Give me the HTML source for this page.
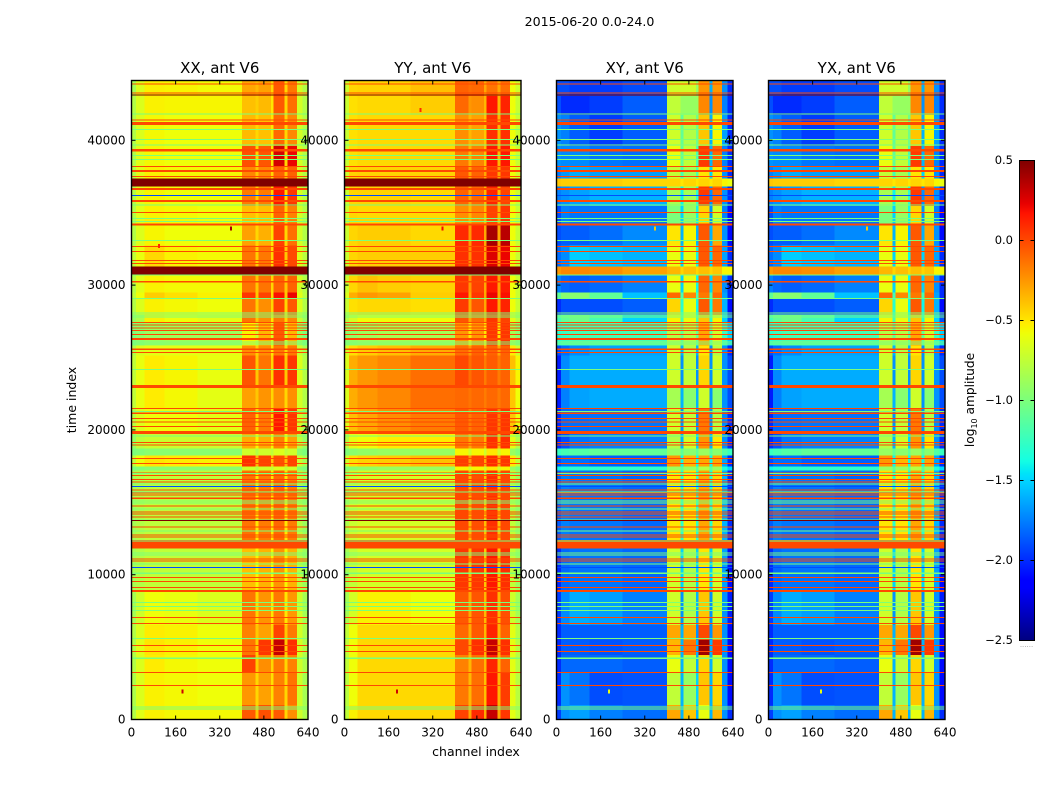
<!DOCTYPE html>
<html lang="en">
<head>
<meta charset="utf-8">
<title>2015-06-20 0.0-24.0</title>
<style>
html,body{margin:0;padding:0;background:#fff;width:1050px;height:800px;overflow:hidden}
svg{display:block}
text{font-family:"DejaVu Sans","Liberation Sans",sans-serif;fill:#000}
</style>
</head>
<body>
<svg id="figure" xmlns="http://www.w3.org/2000/svg" width="1050" height="800" viewBox="0 0 1050 800">
<rect x="0" y="0" width="1050" height="800" fill="#fff"/>
<text x="589.5" y="26" font-size="12.6" text-anchor="middle">2015-06-20 0.0-24.0</text>
<text transform="translate(76,400) rotate(-90)" font-size="12.5" text-anchor="middle">time index</text>
<text x="476" y="756" font-size="12.5" text-anchor="middle">channel index</text>
<text transform="translate(974,400) rotate(-90)" font-size="12.2" text-anchor="middle">log<tspan font-size="8" dy="3">10</tspan><tspan dy="-3"> amplitude</tspan></text>
<text x="1026.5" y="647" font-size="7" text-anchor="middle" fill="#999" style="fill:#999">......</text>
<g id="panels"></g>
<g id="colorbar"></g>
</svg>
<script>
// Channel bin edges (x axis categories)
const channelEdges = [0,16,48,120,240,400,450,460,505,515,555,565,600,620,640];
// Time row edges, top to bottom
const timeEdges = [44130,43070,41760,39620,38170,37350,36800,35480,34100,32720,31280,30730,29480,29070,27900,27420,25830,25140,23070,21480,19830,18720,18240,17480,17210,12380,11830,8930,6520,5480,4450,3280,1000,0];
const xTicks = [0,160,320,480,640];
const yTicks = [0,10000,20000,30000,40000];
const colorbarTicks = [0.5,0,-0.5,-1,-1.5,-2,-2.5];
const colorbarTickLabels = ["0.5","0.0","\u22120.5","\u22121.0","\u22121.5","\u22122.0","\u22122.5"];
const panelTitles = ["XX, ant V6","YY, ant V6","XY, ant V6","YX, ant V6"];

// log10 amplitude, one row per time segment, one column per channel bin
const xxValues = [
[-.85,-.65,-.54,-.55,-.57,-.3,-.35,-.28,-.45,-.05,-.45,-.15,-.68,-.8],
[-.8,-.65,-.54,-.55,-.55,-.38,-.42,-.36,-.5,-.05,-.45,-.12,-.68,-.8],
[-.8,-.65,-.56,-.58,-.58,-.36,-.45,-.38,-.5,-.1,-.45,-.2,-.68,-.8],
[-.8,-.63,-.56,-.58,-.58,-.02,-.45,-.04,-.5,.28,-.45,.22,-.68,-.8],
[-.8,-.63,-.54,-.56,-.56,-.2,-.4,-.2,-.45,-.08,-.4,-.08,-.68,-.8],
[.5,.5,.5,.5,.5,.5,.5,.5,.5,.5,.5,.5,.5,.5],
[-.8,-.63,-.55,-.58,-.58,-.16,-.42,-.16,-.45,.16,-.45,.06,-.68,-.8],
[-.8,-.63,-.54,-.56,-.58,-.38,-.45,-.38,-.5,-.08,-.45,-.18,-.68,-.8],
[-.8,-.65,-.55,-.58,-.58,-.28,-.45,-.33,-.5,.02,-.45,-.12,-.68,-.8],
[-.75,-.6,-.46,-.54,-.56,-.14,-.42,-.15,-.45,.08,-.4,0,-.65,-.78],
[.5,.5,.5,.5,.5,.5,.5,.5,.5,.5,.5,.5,.5,.5],
[-.8,-.63,-.54,-.56,-.56,-.14,-.4,-.14,-.45,-.08,-.4,-.08,-.68,-.8],
[-.75,-.58,-.42,-.48,-.54,.06,-.4,.02,-.45,.18,-.4,.22,-.63,-.78],
[-.8,-.65,-.54,-.56,-.58,-.14,-.42,-.22,-.45,.02,-.45,-.05,-.65,-.8],
[-.9,-.82,-.54,-.58,-.62,-.14,-.4,-.22,-.5,-.15,-.45,-.2,-.72,-.88],
[-1,-.95,-.9,-.88,-.88,-.55,-.7,-.35,-.65,-.05,-.7,-.35,-.88,-1],
[-.8,-.65,-.62,-.62,-.62,-.22,-.42,-.22,-.5,-.15,-.45,-.15,-.72,-.85],
[-.75,-.6,-.52,-.55,-.6,-.04,-.4,-.14,-.45,.08,-.4,.06,-.65,-.8],
[-.75,-.6,-.52,-.56,-.62,-.28,-.4,-.24,-.45,-.22,-.45,-.22,-.68,-.8],
[-.78,-.64,-.58,-.58,-.62,-.08,-.45,-.15,-.45,.16,-.45,.06,-.7,-.85],
[-.9,-.76,-.72,-.72,-.72,-.32,-.55,-.32,-.55,-.18,-.55,-.28,-.76,-.9],
[-1,-.98,-.95,-.95,-.95,-.7,-.8,-.7,-.75,-.65,-.75,-.7,-.95,-1],
[-.75,-.58,-.5,-.52,-.54,.08,-.35,.02,-.4,-.02,-.35,.02,-.72,-.85],
[-1,-.98,-.95,-.95,-.95,-.7,-.8,-.7,-.75,-.65,-.75,-.7,-.95,-1],
[-.85,-.8,-.76,-.76,-.76,-.14,-.5,-.16,-.5,-.1,-.5,-.16,-.78,-.88],
[0,0,0,0,0,0,0,0,0,0,0,0,0,0],
[-.85,-.8,-.75,-.75,-.75,-.38,-.55,-.34,-.55,-.24,-.55,-.34,-.78,-.88],
[-.85,-.7,-.58,-.6,-.65,-.14,-.45,-.24,-.5,-.15,-.5,-.25,-.7,-.85],
[-.8,-.65,-.52,-.54,-.58,-.18,-.4,-.28,-.45,.02,-.4,-.15,-.68,-.82],
[-.8,-.63,-.5,-.54,-.58,-.14,-.42,.06,-.4,.32,-.4,.08,-.68,-.82],
[-.8,-.65,-.52,-.56,-.58,.02,-.42,-.22,-.45,-.15,-.45,-.18,-.7,-.82],
[-.82,-.65,-.54,-.56,-.58,-.25,-.45,-.28,-.48,-.18,-.45,-.14,-.7,-.85],
[-.8,-.63,-.54,-.56,-.56,-.05,-.4,-.02,-.42,-.05,-.45,-.22,-.7,-.82]
];
const yyValues = [
[-.72,-.45,-.44,-.44,-.38,-.08,-.12,-.1,-.3,-.14,-.3,-.12,-.58,-.7],
[-.72,-.48,-.46,-.46,-.42,-.1,-.25,-.22,-.35,.16,-.35,.12,-.58,-.72],
[-.72,-.48,-.46,-.46,-.46,-.22,-.35,-.28,-.4,.08,-.35,.08,-.58,-.72],
[-.72,-.48,-.46,-.46,-.46,-.15,-.35,-.18,-.38,.16,-.35,.16,-.58,-.72],
[-.72,-.45,-.44,-.44,-.44,-.05,-.3,-.08,-.3,.06,-.3,.06,-.58,-.7],
[.5,.5,.5,.5,.5,.5,.5,.5,.5,.5,.5,.5,.5,.5],
[-.72,-.45,-.44,-.44,-.46,-.08,-.3,-.1,-.35,.12,-.35,.02,-.58,-.72],
[-.72,-.45,-.46,-.46,-.46,-.22,-.35,-.2,-.38,.02,-.35,.06,-.58,-.72],
[-.72,-.45,-.42,-.42,-.46,.1,-.25,.1,-.3,.4,-.3,.35,-.58,-.72],
[-.72,-.45,-.42,-.42,-.42,.08,-.22,.08,-.28,.26,-.28,.22,-.58,-.72],
[.5,.5,.5,.5,.5,.5,.5,.5,.5,.5,.5,.5,.5,.5],
[-.72,-.45,-.38,-.42,-.44,.06,-.25,.02,-.3,.16,-.28,.14,-.58,-.72],
[-.65,-.32,-.25,-.28,-.42,.16,-.3,.06,-.3,.22,-.3,.18,-.58,-.72],
[-.72,-.48,-.46,-.46,-.48,.05,-.3,-.04,-.3,.16,-.3,.12,-.58,-.72],
[-.8,-.68,-.58,-.58,-.58,-.04,-.3,-.12,-.3,.06,-.3,.02,-.62,-.78],
[-.95,-.92,-.88,-.85,-.85,-.25,-.5,-.25,-.5,.06,-.5,.06,-.85,-.95],
[-.7,-.48,-.42,-.38,-.32,-.12,-.25,-.08,-.3,-.08,-.3,-.08,-.52,-.7],
[-.65,-.32,-.25,-.2,-.12,0,-.12,-.04,-.16,-.06,-.16,-.08,-.38,-.55],
[-.65,-.32,-.25,-.2,-.12,-.1,-.14,-.1,-.16,-.1,-.16,-.1,-.4,-.58],
[-.65,-.38,-.3,-.22,-.16,-.05,-.16,-.08,-.18,.06,-.18,.06,-.4,-.6],
[-.8,-.62,-.58,-.52,-.52,-.15,-.3,-.15,-.35,.08,-.35,.08,-.62,-.8],
[-.98,-.95,-.92,-.9,-.9,-.55,-.7,-.55,-.7,-.5,-.7,-.55,-.9,-.98],
[-.7,-.48,-.44,-.42,-.38,.04,-.25,.02,-.3,.1,-.3,.06,-.52,-.75],
[-.98,-.95,-.92,-.9,-.9,-.55,-.7,-.55,-.7,-.5,-.7,-.55,-.9,-.98],
[-.82,-.72,-.68,-.68,-.68,0,-.35,-.02,-.38,.08,-.38,0,-.75,-.88],
[0,0,0,0,0,0,0,0,0,0,0,0,0,0],
[-.85,-.75,-.68,-.68,-.68,.06,-.35,.06,-.4,.16,-.4,.08,-.75,-.88],
[-.85,-.68,-.54,-.54,-.58,-.05,-.3,-.04,-.35,.08,-.35,-.02,-.7,-.85],
[-.75,-.58,-.46,-.46,-.46,-.1,-.32,-.05,-.35,.12,-.35,-.08,-.62,-.78],
[-.75,-.58,-.46,-.46,-.46,0,-.3,.08,-.32,.32,-.32,.08,-.62,-.78],
[-.75,-.58,-.46,-.46,-.46,-.18,-.35,-.12,-.35,.12,-.35,-.08,-.62,-.78],
[-.78,-.58,-.46,-.46,-.46,-.15,-.35,-.12,-.38,.16,-.35,.04,-.62,-.78],
[-.75,-.54,-.46,-.46,-.46,.02,-.3,.1,-.32,.32,-.3,.06,-.62,-.75]
];
const xyValues = [
[-1.9,-1.9,-1.95,-1.95,-1.9,-.7,-.7,-.7,-.9,-.25,-1.6,-.25,-1.7,-2],
[-1.9,-2,-2,-1.95,-1.85,-.75,-.9,-.9,-.9,-.2,-1.7,-.2,-1.75,-2],
[-1.7,-1.75,-1.85,-1.95,-1.85,-.7,-1.1,-.8,-1.05,-.4,-1.6,-.55,-1.65,-2],
[-1.7,-1.72,-1.72,-1.78,-1.8,-.6,-1.1,-.75,-1.2,.05,-1.6,-.1,-1.75,-2],
[-1.75,-1.68,-1.62,-1.66,-1.66,-.75,-1.2,-.85,-1.2,-.5,-1.5,-.5,-1.7,-2],
[-.4,-.42,-.42,-.42,-.45,-.45,-.5,-.45,-.5,-.45,-.5,-.45,-.55,-.6],
[-1.75,-1.7,-1.65,-1.6,-1.6,-.85,-1.4,-.85,-1.3,.05,-1.7,-.1,-1.7,-2],
[-1.9,-1.75,-1.78,-1.78,-1.78,-1,-1.5,-.9,-1.4,-.45,-1.7,-.7,-1.75,-2.1],
[-1.9,-1.85,-1.85,-1.8,-1.72,-.5,-1.6,-.55,-1.6,-.05,-1.6,-.3,-1.7,-2.1],
[-1.8,-1.72,-1.52,-1.56,-1.6,-.6,-1.5,-.6,-1.4,-.05,-1.5,-.1,-1.65,-2],
[-.25,-.2,-.2,-.22,-.28,-.35,-.45,-.38,-.45,-.38,-.45,-.4,-.55,-.55],
[-1.75,-1.82,-1.85,-1.82,-1.75,-.6,-1.5,-.6,-1.4,-.1,-1.5,-.2,-1.7,-2],
[-1.1,-.95,-.95,-1.1,-1.55,-.1,-1.2,-.2,-1.2,-.15,-1.2,-.1,-1.65,-2],
[-2,-1.9,-1.9,-1.9,-1.85,-.45,-1.3,-.6,-1.4,-.05,-1.4,-.15,-1.6,-2.1],
[-1.2,-1.1,-1.05,-1.2,-1.5,-.55,-1.2,-.6,-1.2,-.4,-1.3,-.55,-1.5,-1.9],
[-1.3,-1.25,-1.2,-1.2,-1.2,-.8,-1.1,-.8,-1.1,-.3,-1.1,-.7,-1.25,-1.5],
[-1.9,-1.8,-1.72,-1.65,-1.65,-.7,-1.6,-.8,-1.6,-.5,-1.7,-.8,-1.7,-2],
[-2.05,-1.72,-1.62,-1.62,-1.62,-.7,-1.7,-.75,-1.7,-.45,-1.7,-.7,-1.7,-1.9],
[-2.05,-1.75,-1.65,-1.62,-1.62,-.85,-1.6,-.95,-1.6,-.7,-1.7,-.95,-1.7,-1.9],
[-2,-1.82,-1.8,-1.78,-1.78,-.7,-1.7,-.75,-1.7,-.15,-1.7,-.8,-1.72,-2],
[-2,-1.9,-1.78,-1.75,-1.75,-.8,-1.6,-.7,-1.5,-.25,-1.6,-.5,-1.7,-2],
[-1.25,-1.2,-1.15,-1.1,-1.1,-.9,-1.1,-.95,-1.1,-.9,-1.1,-.95,-1.15,-1.25],
[-1.9,-1.8,-1.8,-1.85,-1.85,-.25,-1.4,-.35,-1.4,-.3,-1.4,-.3,-1.65,-2],
[-1.4,-1.35,-1.3,-1.3,-1.3,-.9,-1.1,-.9,-1.1,-.8,-1.1,-.9,-1.35,-1.5],
[-1.85,-1.75,-1.78,-1.78,-1.82,-.5,-1.3,-.5,-1.3,-.3,-1.3,-.45,-1.6,-2],
[0,0,0,0,0,0,0,0,0,0,0,0,0,0],
[-2,-1.82,-1.78,-1.78,-1.82,-.7,-1.5,-.8,-1.5,-.5,-1.5,-.7,-1.65,-2.1],
[-1.95,-1.72,-1.62,-1.66,-1.75,-.7,-1.7,-.8,-1.6,-.4,-1.7,-.7,-1.7,-2.05],
[-2,-1.85,-1.85,-1.85,-1.85,-.3,-1.6,-.3,-1.7,0,-1.7,-.25,-1.7,-2.1],
[-2,-1.85,-1.85,-1.88,-1.85,-.35,-1.6,-.15,-1.6,.42,-1.6,.05,-1.7,-2.1],
[-2,-1.82,-1.82,-1.82,-1.85,-.6,-1.6,-.75,-1.6,-.45,-1.6,-.7,-1.7,-2.1],
[-2,-1.7,-1.78,-1.9,-1.88,-.75,-1.6,-.9,-1.5,-.4,-1.6,-.45,-1.7,-2.1],
[-1.95,-1.7,-1.65,-1.75,-1.8,-.3,-1.6,-.4,-1.6,-.6,-1.6,-.35,-1.7,-2]
];
const yxValues = xyValues;
const panelValues = [xxValues, yyValues, xyValues, yxValues];

// Flagged integrations: the time index of each full-width line
const orangeTimes = [43890,43250,41400,38180,37490,35000,32680,32330,31710,31480,27430,27240,27040,26850,26600,25570,25360,21490,21150,20800,20530,20250,19140,18960,18040,17690,17040,16840,16590,16400,15850,15640,15500,15280,14740,14330,14190,14000,13310,12740,12620,11080,10950,9820,9520,9100,7060,6640,5120,4680,3260,2360];
const greenTimes = [41800,40760,40070,39660,38940,38690,35530,34610,34380,33090,30700,29060,28070,27930,27800,26070,25930,24180,21280,19580,16980,16250,15720,15100,14950,14540,13780,13020,12330,11500,11360,10740,10100,8090,7790,7540,5610,4230,860,720];
const darkTimes = [43130,13730];
const blueTimes = [36200,16080,10510];
const wideOrangeStarts = [41280,39400,37950,36700,35880,34240,30300,26350,23100,19920,12210,8940];
const wideOrangeEnds = [41050,39230,37810,36570,35740,34100,30170,26210,22890,19720,11820,8810];
const orangeLevel = 0;
const greenLevel = -1;
const darkLevel = 0.5;
const blueLevel = -1.9;

// Isolated bright spots: channel, time, level, for each panel
const spotChannels = [[360,185,100],[355,190,275],[358,190],[358,190]];
const spotTimes = [[33900,1950,32700],[33900,1950,42100],[33900,1950],[33900,1950]];
const spotLevels = [[.4,.3,.1],[.2,.3,.1],[-.4,-.6],[-.4,-.6]];

const panelLefts = [131.5,344.5,556.5,768.5];
const panelWidth = 176.5;
const plotTop = 80.5;
const plotBottom = 719.5;
const channelMax = 640;
const timeMax = 44130;
const NS = "http://www.w3.org/2000/svg";

function xScale(panel, channel){ return panelLefts[panel] + channel / channelMax * panelWidth; }
function yScale(time){ return plotBottom - time / timeMax * (plotBottom - plotTop); }

function segment(x0, v0, x1, v1, t){
  return v0 + (v1 - v0) * (t - x0) / (x1 - x0);
}
function jet(v){
  const t = Math.max(0, Math.min(1, (v + 2.5) / 3));
  let r, g, b;
  r = t < .35 ? 0 : t < .66 ? segment(.35,0,.66,1,t) : t < .89 ? 1 : segment(.89,1,1,.5,t);
  g = t < .125 ? 0 : t < .375 ? segment(.125,0,.375,1,t) : t < .64 ? 1 : t < .91 ? segment(.64,1,.91,0,t) : 0;
  b = t < .11 ? segment(0,.5,.11,1,t) : t < .34 ? 1 : t < .65 ? segment(.34,1,.65,0,t) : 0;
  return "rgb(" + Math.round(r*255) + "," + Math.round(g*255) + "," + Math.round(b*255) + ")";
}
function rectEl(parent, x, y, w, h, fill){
  const el = document.createElementNS(NS, "rect");
  el.setAttribute("x", x);
  el.setAttribute("y", y);
  el.setAttribute("width", w);
  el.setAttribute("height", h);
  el.setAttribute("fill", fill);
  el.setAttribute("shape-rendering", "crispEdges");
  parent.appendChild(el);
  return el;
}
function lineEl(parent, x1, y1, x2, y2){
  const el = document.createElementNS(NS, "line");
  el.setAttribute("x1", x1);
  el.setAttribute("y1", y1);
  el.setAttribute("x2", x2);
  el.setAttribute("y2", y2);
  el.setAttribute("stroke", "#000");
  el.setAttribute("stroke-width", "1");
  parent.appendChild(el);
  return el;
}
function textEl(parent, x, y, size, anchor, str){
  const el = document.createElementNS(NS, "text");
  el.setAttribute("x", x);
  el.setAttribute("y", y);
  el.setAttribute("font-size", size);
  el.setAttribute("text-anchor", anchor);
  el.textContent = str;
  parent.appendChild(el);
  return el;
}
function drawLine(group, panel, timeHigh, timeLow, level){
  const y0 = yScale(timeHigh);
  const h = Math.max(1, yScale(timeLow) - y0);
  const el = rectEl(group, xScale(panel, 0), y0, panelWidth, h, jet(level));
  
  
}

const panelsRoot = document.getElementById("panels");
panelValues.forEach(function(values, p){
  const g = document.createElementNS(NS, "g");
  
  
  panelsRoot.appendChild(g);

  const cells = document.createElementNS(NS, "g");
  
  
  g.appendChild(cells);

  values.forEach(function(row, r){
    row.forEach(function(v, c){
      const x0 = xScale(p, channelEdges[c]);
      const x1 = xScale(p, channelEdges[c + 1]);
      const y0 = yScale(timeEdges[r]);
      const y1 = yScale(timeEdges[r + 1]);
      const cell = rectEl(cells, x0, y0, x1 - x0, y1 - y0, jet(v));
      
      
    });
  });

  orangeTimes.forEach(function(t){ drawLine(cells, p, t + 35, t - 35, orangeLevel); });
  greenTimes.forEach(function(t){ drawLine(cells, p, t + 35, t - 35, greenLevel); });
  darkTimes.forEach(function(t){ drawLine(cells, p, t + 35, t - 35, darkLevel); });
  blueTimes.forEach(function(t){ drawLine(cells, p, t + 35, t - 35, blueLevel); });
  wideOrangeStarts.forEach(function(t, i){ drawLine(cells, p, t, wideOrangeEnds[i], orangeLevel); });

  spotChannels[p].forEach(function(ch, i){
    const spot = rectEl(cells, xScale(p, ch) - 1, yScale(spotTimes[p][i]) - 2, 2, 4, jet(spotLevels[p][i]));
    
    
  });

  const left = xScale(p, 0);
  const right = xScale(p, channelMax);

  const frame = rectEl(g, left, plotTop, panelWidth, plotBottom - plotTop, "none");
  frame.setAttribute("stroke", "#000");
  frame.setAttribute("stroke-width", "1.4");
  frame.setAttribute("shape-rendering", "auto");
  
  

  const title = textEl(g, (left + right) / 2, 73, 15, "middle", panelTitles[p]);
  
  

  xTicks.forEach(function(tv){
    const x = xScale(p, tv);
    const tb = lineEl(g, x, plotBottom, x, plotBottom - 4);
    
    
    const tt = lineEl(g, x, plotTop, x, plotTop + 4);
    
    
    const lab = textEl(g, x, 736.5, 12, "middle", String(tv));
    
    
  });
  yTicks.forEach(function(tv){
    const y = yScale(tv);
    const tl = lineEl(g, left, y, left + 4, y);
    
    
    const tr = lineEl(g, right, y, right - 4, y);
    
    
    const lab = textEl(g, left - 6, y + 4, 12, "end", String(tv));
    
    
  });
});

// Colorbar
const cbRoot = document.getElementById("colorbar");
const cbLeft = 1019.5;
const cbRight = 1034.5;
const cbTop = 160.5;
const cbBottom = 640.5;
function cbY(v){ return cbBottom - (v + 2.5) / 3 * (cbBottom - cbTop); }
for (let py = 0; py < 480; py++) {
  const v = 0.5 - (py + 0.5) / 480 * 3;
  const sw = rectEl(cbRoot, cbLeft, cbY(v) - 0.5, cbRight - cbLeft, 1, jet(v));
  
  
}
const cbFrame = rectEl(cbRoot, cbLeft, cbTop, cbRight - cbLeft, cbBottom - cbTop, "none");
cbFrame.setAttribute("stroke", "#000");
cbFrame.setAttribute("stroke-width", "1");
cbFrame.setAttribute("shape-rendering", "auto");


colorbarTicks.forEach(function(v, i){
  const y = cbY(v);
  const a = lineEl(cbRoot, cbLeft, y, cbLeft + 4, y);
  
  
  const b = lineEl(cbRoot, cbRight, y, cbRight - 4, y);
  
  
  const lab = textEl(cbRoot, 1013, y + 3.5, 11.5, "end", colorbarTickLabels[i]);
  
  
});
</script>
</body>
</html>
